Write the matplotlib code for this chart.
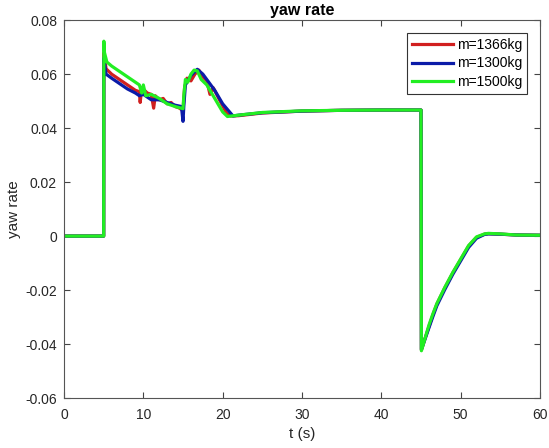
import numpy as np
import matplotlib.pyplot as plt

# yaw rate response for three vehicle masses
t_red = [0, 5, 5.02, 5.3, 6, 7, 8, 9, 9.5, 9.6, 9.8, 10.5, 11, 11.3, 11.5, 12, 12.5, 13, 13.5,
         14, 14.5, 15, 15.2, 15.5, 16, 16.5, 17, 17.5, 18, 18.4, 18.8, 19.5, 20.5, 21, 22, 25,
         30, 35, 40, 45, 45.05, 46, 46.5, 47, 48, 49, 50, 51, 52, 53, 53.5, 55, 57, 60]
v_red = [0, 0, 0.068, 0.062, 0.060, 0.058, 0.056, 0.054, 0.0535, 0.0495, 0.055, 0.053, 0.0525,
         0.0474, 0.052, 0.0505, 0.051, 0.049, 0.0495, 0.048, 0.0475, 0.0465, 0.055, 0.0585,
         0.0575, 0.060, 0.0615, 0.059, 0.0575, 0.0525, 0.055, 0.051, 0.0455, 0.0445, 0.0446,
         0.0456, 0.0463, 0.0466, 0.0467, 0.0467, -0.0422, -0.0335, -0.0292, -0.0252, -0.0192,
         -0.0137, -0.0087, -0.0037, -0.0005, 0.0007, 0.0009, 0.0007, 0.0004, 0.0003]

t_blue = [0, 5, 5.02, 5.3, 6, 7, 8, 9, 9.5, 10, 10.5, 11, 12, 13, 14, 14.8, 15, 15.1, 15.3, 16,
          16.8, 17.5, 18, 19, 20, 21.3, 22, 25, 30, 35, 40, 45, 45.05, 46, 46.5, 47, 48, 49,
          50, 51, 52, 53, 53.5, 55, 57, 60]
v_blue = [0, 0, 0.066, 0.060, 0.0585, 0.0565, 0.0545, 0.053, 0.052, 0.0525, 0.0515, 0.0505,
          0.0505, 0.0495, 0.0485, 0.048, 0.0425, 0.048, 0.056, 0.0595, 0.0618, 0.060, 0.058,
          0.054, 0.049, 0.0445, 0.0448, 0.0457, 0.0463, 0.0466, 0.0467, 0.0467, -0.0420,
          -0.0340, -0.0298, -0.0258, -0.0198, -0.0142, -0.0092, -0.0042, -0.0008, 0.0006,
          0.0008, 0.0007, 0.0004, 0.0003]

t_green = [0, 5, 5.02, 5.1, 5.4, 6, 7, 8, 9, 9.5, 9.8, 10, 10.3, 11, 12, 13, 14, 15, 15.1,
           15.3, 15.6, 16, 16.4, 16.8, 17.3, 18, 19, 20, 20.6, 22, 25, 30, 35, 40, 45, 45.05,
           46, 46.5, 47, 48, 49, 50, 51, 52, 53, 53.5, 55, 57, 60]
v_green = [0, 0, 0.0722, 0.068, 0.0645, 0.063, 0.061, 0.059, 0.057, 0.056, 0.053, 0.056,
           0.052, 0.0525, 0.051, 0.049, 0.048, 0.0472, 0.052, 0.058, 0.057, 0.060, 0.0615,
           0.0612, 0.058, 0.056, 0.051, 0.046, 0.0443, 0.0448, 0.0458, 0.0464, 0.0466, 0.0467,
           0.0467, -0.0425, -0.0330, -0.0288, -0.0250, -0.0190, -0.0135, -0.0085, -0.0035,
           -0.0003, 0.0008, 0.0010, 0.0008, 0.0004, 0.0003]

labels = ['m=1366kg', 'm=1300kg', 'm=1500kg']

plt.rcParams['font.family'] = ['Liberation Sans', 'DejaVu Sans']
fig = plt.figure(figsize=(5.49, 4.48), dpi=100)
ax = fig.add_axes([0.1166, 0.1116, 0.867, 0.8434])

ax.plot(t_red, v_red, c='#d11f1f', lw=2.3, label=labels[0])
ax.plot(t_blue, v_blue, c='#0b1ba8', lw=2.3, label=labels[1])
ax.plot(t_green, v_green, c='#22ee22', lw=2.3, label=labels[2])

ax.set_xlim(0, 60)
ax.set_ylim(-0.06, 0.08)
ax.set_xticks(np.arange(0, 61, 10))
ax.set_yticks(np.arange(-0.06, 0.081, 0.02))
ax.set_yticklabels(['-0.06', '-0.04', '-0.02', '0', '0.02', '0.04', '0.06', '0.08'])
ax.tick_params(direction='in', top=True, right=True, labelsize=10, length=4,
               color='#444444', labelcolor='#262626')
ax.tick_params(axis='x', pad=7)
ax.tick_params(axis='y', pad=5)
for s in ax.spines.values():
    s.set_color('#555555')
    s.set_linewidth(0.8)

ax.set_xlabel('t (s)', fontsize=11, color='#262626', labelpad=4)
ax.set_ylabel('yaw rate', fontsize=11, color='#262626', labelpad=3)
ax.set_title('yaw rate', fontsize=11.5, fontweight='bold', pad=4)

leg = ax.legend(loc='upper right', fontsize=10, handlelength=3.0, borderaxespad=0.9,
                fancybox=False, framealpha=1, edgecolor='#333333', labelspacing=0.35,
                handletextpad=0.3, borderpad=0.35)
leg.get_frame().set_linewidth(0.8)

plt.savefig('out.png', dpi=100)
